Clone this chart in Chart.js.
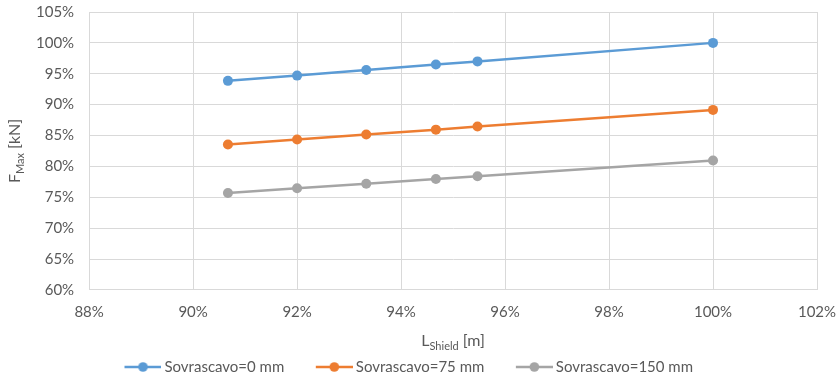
<!doctype html>
<html lang="it">
  <head>
    <meta charset="UTF-8" />
    <title>F Max vs L Shield</title>
    <script src="https://cdn.jsdelivr.net/npm/chart.js"></script>
    <style>
      body {
        margin: 0;
        background: #ffffff;
      }
      #wrap {
        width: 838px;
        height: 379px;
        position: relative;
      }
    </style>
  </head>
  <body>
    <div id="wrap"><canvas id="chart"></canvas></div>

    <script>
      // L_Shield (% of full length)
      const lShield = [90.67, 92.0, 93.33, 94.67, 95.47, 100.0];
      // F_Max (%) per overcut
      const sovra0 = [93.85, 94.7, 95.6, 96.5, 97.0, 100.0];
      const sovra75 = [83.55, 84.35, 85.15, 85.95, 86.45, 89.15];
      const sovra150 = [75.7, 76.45, 77.2, 77.95, 78.4, 80.95];
      const seriesNames = ["Sovrascavo=0 mm", "Sovrascavo=75 mm", "Sovrascavo=150 mm"];
      const colors = ["#5B9BD5", "#ED7D31", "#A5A5A5"];

      const textColor = "#595959";
      const gridColor = "#D9D9D9";
      const fontFamily = "Lato, 'Liberation Sans', sans-serif";

      // legend marker: line with circle, pushed to the right of the icon
      const ICON_BOX = 54;
      function legendIcon(color) {
        const c = document.createElement("canvas");
        c.width = ICON_BOX + 9;
        c.height = 12;
        const g = c.getContext("2d");
        const x1 = c.width - 37;
        g.strokeStyle = color;
        g.lineWidth = 2.5;
        g.beginPath();
        g.moveTo(x1, 6);
        g.lineTo(c.width, 6);
        g.stroke();
        g.fillStyle = color;
        g.beginPath();
        g.arc(x1 + 18.5, 6, 4.8, 0, Math.PI * 2);
        g.fill();
        return c;
      }

      const toPoints = (ys) => ys.map((y, i) => ({ x: lShield[i], y: y }));
      const allSeries = [sovra0, sovra75, sovra150];

      const datasets = allSeries.map((ys, i) => ({
        label: seriesNames[i],
        data: toPoints(ys),
        borderColor: colors[i],
        backgroundColor: colors[i],
        borderWidth: 2.5,
        pointRadius: 5,
        pointHoverRadius: 5,
        pointBorderWidth: 0,
        pointStyle: "circle",
        tension: 0,
      }));

      // axis titles with subscripts (F_Max, L_Shield)
      const subTitles = {
        id: "subTitles",
        afterDraw(chart) {
          const ctx = chart.ctx;
          const area = chart.chartArea;
          ctx.save();
          ctx.fillStyle = textColor;
          ctx.textBaseline = "alphabetic";

          function drawSub(parts, cx, cy) {
            let total = 0;
            parts.forEach((p) => {
              ctx.font = p.size + "px " + fontFamily;
              p.w = ctx.measureText(p.t).width;
              total += p.w;
            });
            let x = cx - total / 2;
            parts.forEach((p) => {
              ctx.font = p.size + "px " + fontFamily;
              ctx.textAlign = "left";
              ctx.fillText(p.t, x, cy + (p.dy || 0));
              x += p.w;
            });
          }

          drawSub(
            [
              { t: "L", size: 16 },
              { t: "Shield", size: 11, dy: 4 },
              { t: " [m]", size: 16 },
            ],
            (area.left + area.right) / 2,
            346
          );

          ctx.translate(19.5, (area.top + area.bottom) / 2);
          ctx.rotate(-Math.PI / 2);
          drawSub(
            [
              { t: "F", size: 16 },
              { t: "Max", size: 11, dy: 4 },
              { t: " [kN]", size: 16 },
            ],
            0,
            0
          );
          ctx.restore();
        },
      };

      // nudge the legend a little left, like the original
      const legendShift = {
        id: "legendShift",
        afterLayout(chart) {
          chart.legend.left -= 21;
          chart.legend.right -= 21;
        },
      };

      new Chart(document.getElementById("chart"), {
        type: "line",
        data: { datasets: datasets },
        plugins: [subTitles, legendShift],
        options: {
          responsive: true,
          maintainAspectRatio: false,
          animation: false,
          layout: { padding: { left: 21, right: 21, top: 12, bottom: -5.5 } },
          scales: {
            x: {
              type: "linear",
              min: 88,
              max: 102,
              afterFit: (s) => {
                s.paddingLeft = 0;
                s.paddingRight = 0;
              },
              ticks: {
                stepSize: 2,
                color: textColor,
                font: { family: fontFamily, size: 15 },
                padding: 13,
                callback: (v) => v + "%",
              },
              grid: { color: gridColor, drawTicks: false },
              border: { color: gridColor },
              // space only; the subscripted title is drawn by subTitles
              title: { display: true, text: "", font: { size: 13 }, padding: 0 },
            },
            y: {
              min: 60,
              max: 105,
              afterFit: (s) => {
                s.paddingTop = 0;
                s.paddingBottom = 0;
              },
              ticks: {
                stepSize: 5,
                color: textColor,
                font: { family: fontFamily, size: 15 },
                padding: 15,
                callback: (v) => v + "%",
              },
              grid: { color: gridColor, drawTicks: false },
              border: { color: gridColor },
            },
          },
          plugins: {
            legend: {
              position: "bottom",
              labels: {
                color: textColor,
                font: { family: fontFamily, size: 15 },
                usePointStyle: true,
                pointStyleWidth: ICON_BOX,
                padding: 10,
                generateLabels: (chart) =>
                  chart.data.datasets.map((ds, i) => ({
                    text: ds.label,
                    fillStyle: colors[i],
                    strokeStyle: colors[i],
                    pointStyle: legendIcon(colors[i]),
                    datasetIndex: i,
                    fontColor: textColor,
                    lineWidth: 0,
                  })),
              },
            },
            tooltip: { enabled: false },
          },
        },
      });
    </script>
  </body>
</html>
